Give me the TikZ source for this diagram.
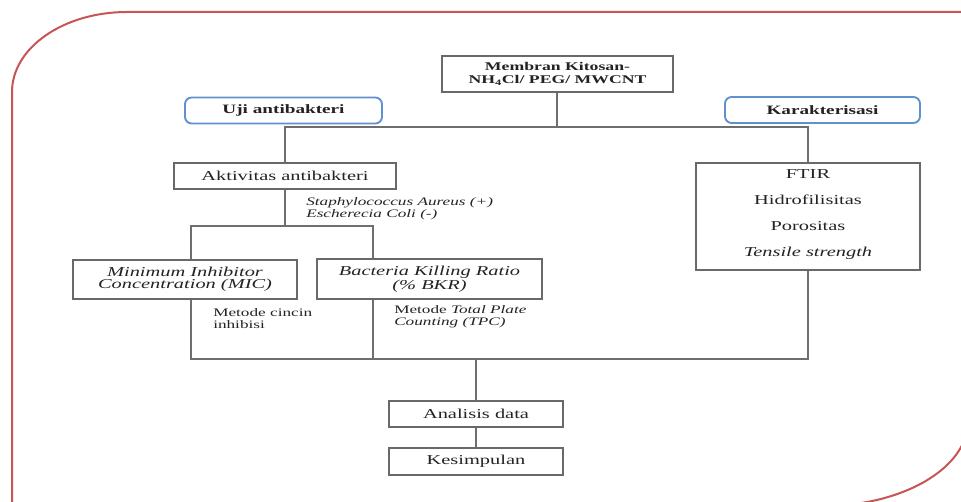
\documentclass[tikz,border=0pt]{standalone}
\usepackage{fontspec}
\setmainfont{Liberation Serif}[FakeStretch=1.5]
\definecolor{boxgray}{RGB}{105,105,105}
\definecolor{linegray}{RGB}{110,110,110}
\definecolor{lblue}{RGB}{95,145,208}
\definecolor{redb}{RGB}{200,85,85}
\definecolor{txt}{RGB}{35,35,35}
\begin{document}
\begin{tikzpicture}[x=0.75pt,y=-0.75pt,
  box/.style={draw=boxgray, line width=1.1pt, fill=white, inner sep=0pt, text=txt, align=center,
              font=\fontsize{10.2}{12}\selectfont},
  lbl/.style={draw=lblue, line width=1.4pt, rounded corners=5pt, fill=white, inner sep=0pt, text=txt,
              font=\bfseries\fontsize{9.6}{11}\selectfont},
  note/.style={inner sep=0pt, text=txt, align=left, font=\fontsize{8.6}{9}\selectfont},
  conn/.style={draw=linegray, line width=1.4pt}]
\useasboundingbox (0,0) rectangle (961,502);
\clip (0,0) rectangle (961,502);
% red frame
\draw[redb, line width=1.5pt] (12,520) -- (12,92) arc[start angle=180, end angle=270, x radius=115, y radius=80]
  -- (970,12) -- (968,421) arc[start angle=0, end angle=90, x radius=145, y radius=85] -- (0,506);
% nodes
\node[box, font=\bfseries\fontsize{8.85}{9.75}\selectfont, minimum width=231*0.75pt, minimum height=36*0.75pt]
  (top) at (557.5,74) {Membran Kitosan-\\NH\textsubscript{4}Cl/ PEG/ MWCNT};
\node[lbl, minimum width=197*0.75pt, minimum height=26*0.75pt] (uji) at (283.5,110.5) {Uji antibakteri};
\node[lbl, minimum width=195*0.75pt, minimum height=26*0.75pt] (kar) at (822.5,110) {Karakterisasi};
\node[box, minimum width=222*0.75pt, minimum height=26*0.75pt] (akt) at (285,176) {Aktivitas antibakteri};
\node[box, font=\itshape\fontsize{10.2}{9}\selectfont, minimum width=224*0.75pt, minimum height=39*0.75pt]
  (mic) at (185,279.5) {Minimum Inhibitor\\Concentration (MIC)};
\node[box, font=\itshape\fontsize{10.2}{9}\selectfont, minimum width=225*0.75pt, minimum height=40*0.75pt]
  (bkr) at (429.5,279) {Bacteria Killing Ratio\\(\% BKR)};
\node[box, minimum width=224*0.75pt, minimum height=107*0.75pt] (ftir) at (808,216.5) {};
\node[inner sep=0pt, text=txt, align=center, font=\fontsize{10.2}{19.3}\selectfont]
  (ftirtext) at (808,214.5) {FTIR\\Hidrofilisitas\\Porositas\\\textit{Tensile strength}};
\node[box, minimum width=174*0.75pt, minimum height=26*0.75pt] (ana) at (476,414) {Analisis data};
\node[box, minimum width=174*0.75pt, minimum height=27*0.75pt] (kes) at (476,461.5) {Kesimpulan};
\node[note, font=\itshape\fontsize{8.6}{9}\selectfont, anchor=west] (bact) at (306,209)
  {Staphylococcus Aureus (+)\\Escherecia Coli (-)};
\node[note, anchor=west] (cincin) at (213,318.5) {Metode cincin\\inhibisi};
\node[note, anchor=west] (tpc) at (394,316.5) {Metode \textit{Total Plate}\\\textit{Counting (TPC)}};
% junction coordinates
\coordinate (jt) at (557,127);
\coordinate (aL) at (191,226);
\coordinate (aR) at (373,226);
\coordinate (bL) at (191,359);
\coordinate (bR) at (808,359);
% connectors
\draw[conn] (top.south -| jt) -- (jt);
\draw[conn] (akt.north) -- (akt.north |- jt) -- (ftir.north |- jt) -- (ftir.north);
\draw[conn] (akt.south) -- (akt.south |- aL);
\draw[conn] (mic.north -| aL) -- (aL) -- (aR) -- (bkr.north -| aR);
\draw[conn] (mic.south -| bL) -- (bL) -- (bR) -- (ftir.south -| bR);
\draw[conn] (bkr.south -| aR) -- (aR |- bL);
\draw[conn] (ana.north) -- (ana.north |- bL);
\draw[conn] (ana.south) -- (kes.north);
\end{tikzpicture}
\end{document}
